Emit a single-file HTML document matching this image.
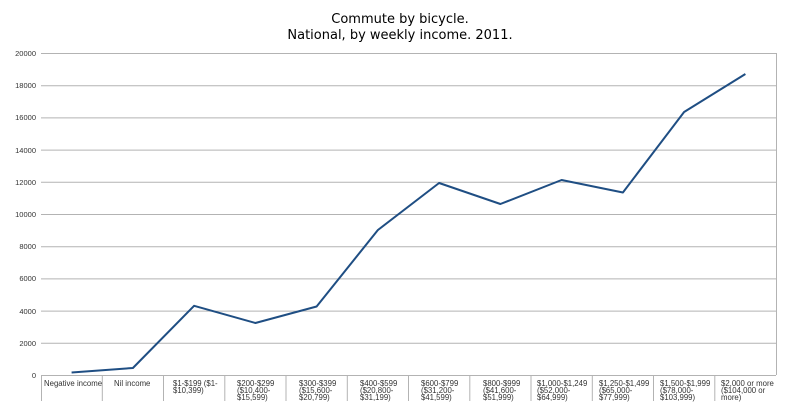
<!DOCTYPE html>
<html><head><style>body{margin:0;background:#fff}</style></head><body>
<svg width="800" height="414" xmlns="http://www.w3.org/2000/svg" font-family="Liberation Sans, sans-serif">
<rect width="800" height="414" fill="#fff"/>
<text x="400" y="23" text-anchor="middle" font-size="13" font-family="DejaVu Sans, sans-serif">Commute by bicycle.</text>
<text x="400" y="39" text-anchor="middle" font-size="13" font-family="DejaVu Sans, sans-serif">National, by weekly income. 2011.</text>
<g stroke="#b3b3b3" stroke-width="1">
<line x1="41" y1="53.5" x2="776" y2="53.5"/>
<line x1="41" y1="85.7" x2="776" y2="85.7"/>
<line x1="41" y1="117.9" x2="776" y2="117.9"/>
<line x1="41" y1="150.1" x2="776" y2="150.1"/>
<line x1="41" y1="182.3" x2="776" y2="182.3"/>
<line x1="41" y1="214.5" x2="776" y2="214.5"/>
<line x1="41" y1="246.7" x2="776" y2="246.7"/>
<line x1="41" y1="278.9" x2="776" y2="278.9"/>
<line x1="41" y1="311.1" x2="776" y2="311.1"/>
<line x1="41" y1="343.3" x2="776" y2="343.3"/>
<line x1="41" y1="375.5" x2="776" y2="375.5"/>
<line x1="776.5" y1="53" x2="776.5" y2="375"/>
<line x1="41.5" y1="375" x2="41.5" y2="401"/>
<line x1="102.3" y1="375" x2="102.3" y2="401"/>
<line x1="163.5" y1="375" x2="163.5" y2="401"/>
<line x1="224.8" y1="375" x2="224.8" y2="401"/>
<line x1="286" y1="375" x2="286" y2="401"/>
<line x1="347.3" y1="375" x2="347.3" y2="401"/>
<line x1="408.5" y1="375" x2="408.5" y2="401"/>
<line x1="469.8" y1="375" x2="469.8" y2="401"/>
<line x1="531" y1="375" x2="531" y2="401"/>
<line x1="592.3" y1="375" x2="592.3" y2="401"/>
<line x1="653.5" y1="375" x2="653.5" y2="401"/>
<line x1="714.8" y1="375" x2="714.8" y2="401"/>
</g>
<g font-size="7.5" text-anchor="end" fill="#333">
<text x="36" y="56">20000</text><text x="36" y="88">18000</text><text x="36" y="120">16000</text>
<text x="36" y="153">14000</text><text x="36" y="185">12000</text><text x="36" y="217">10000</text>
<text x="36" y="249">8000</text><text x="36" y="281">6000</text><text x="36" y="314">4000</text>
<text x="36" y="346">2000</text><text x="36" y="378">0</text>
</g>
<g font-size="7.8" fill="#333">
<text x="44" y="386">Negative income</text>
<text x="114" y="386">Nil income</text>
<text x="173" y="386">$1-$199 ($1-</text><text x="173" y="393">$10,399)</text>
<text x="237" y="386">$200-$299</text><text x="237" y="393">($10,400-</text><text x="237" y="400">$15,599)</text>
<text x="299" y="386">$300-$399</text><text x="299" y="393">($15,600-</text><text x="299" y="400">$20,799)</text>
<text x="360" y="386">$400-$599</text><text x="360" y="393">($20,800-</text><text x="360" y="400">$31,199)</text>
<text x="421" y="386">$600-$799</text><text x="421" y="393">($31,200-</text><text x="421" y="400">$41,599)</text>
<text x="483" y="386">$800-$999</text><text x="483" y="393">($41,600-</text><text x="483" y="400">$51,999)</text>
<text x="537" y="386">$1,000-$1,249</text><text x="537" y="393">($52,000-</text><text x="537" y="400">$64,999)</text>
<text x="599" y="386">$1,250-$1,499</text><text x="599" y="393">($65,000-</text><text x="599" y="400">$77,999)</text>
<text x="660" y="386">$1,500-$1,999</text><text x="660" y="393">($78,000-</text><text x="660" y="400">$103,999)</text>
<text x="721" y="386">$2,000 or more</text><text x="721" y="393">($104,000 or</text><text x="721" y="400">more)</text>
</g>
<polyline fill="none" stroke="#1f4e83" stroke-width="2" stroke-linejoin="round"
points="71.6,372.5 132.9,368 194.1,305.8 255.4,323 316.6,306.5 377.9,230 439.1,183 500.4,204 561.6,180 622.9,192.5 684.1,112 745.4,74"/>
</svg>
</body></html>
